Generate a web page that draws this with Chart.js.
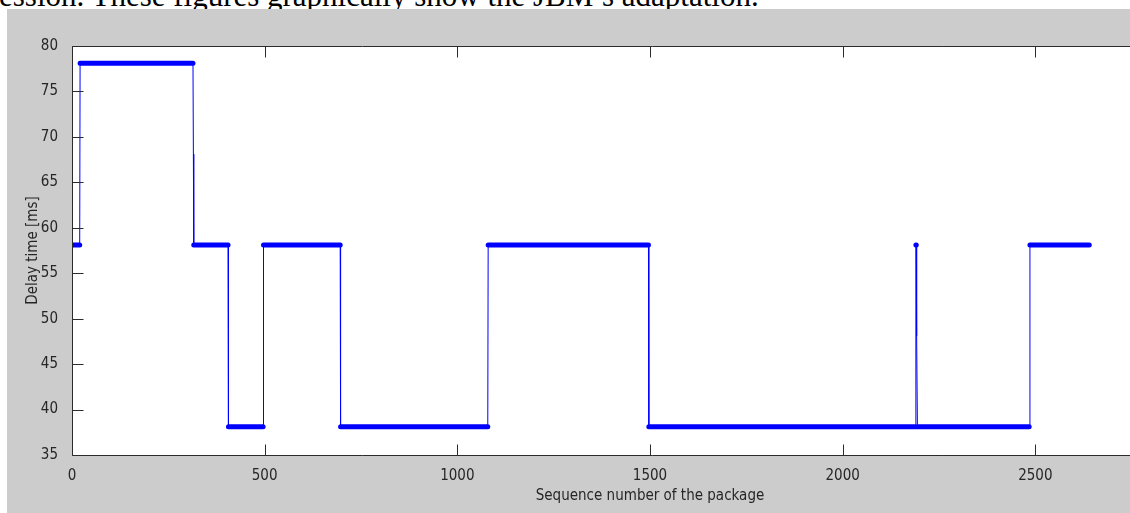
<!DOCTYPE html>
<html>
<head>
<meta charset="utf-8">
<title>Delay time per package</title>
<script src="https://cdn.jsdelivr.net/npm/chart.js@4.4.1/dist/chart.umd.min.js"></script>
<style>
    html, body { margin: 0; padding: 0; background: #ffffff; overflow: hidden; }
    body { width: 1130px; height: 513px; position: relative; }
    .doc-line {
        position: absolute; left: -1px; top: -20px;
        font: 31px/32px "Liberation Serif", "Times New Roman", serif;
        color: #000; white-space: nowrap;
    }
    .figure {
        position: absolute; left: 7px; top: 9px;
        width: 1300px; height: 504px; background: #cccccc;
    }
</style>
</head>
<body>
<div class="doc-line">ession. These figures graphically show the JBM’s adaptation.</div>
<div class="figure"><canvas id="delayChart" width="1300" height="504"></canvas></div>
<script>
// ===== DONNÉES (paliers) =====
const segStart = [1, 21, 316, 406, 497, 697, 1080, 1497, 2190, 2194, 2486];
const segEnd   = [20, 314, 405, 496, 696, 1079, 1496, 2189, 2191, 2484, 2640];
const delayMs  = [58.1, 78.1, 58.1, 38.1, 58.1, 38.1, 58.1, 38.1, 58.1, 38.1, 58.1];
// paquets isolés à une valeur intermédiaire
const midSeq   = [315, 2192];
const midDelay = [68.1, 48.1];
const xTicks = [0, 500, 1000, 1500, 2000, 2500, 3000];
const yTicks = [35, 40, 45, 50, 55, 60, 65, 70, 75, 80];

(function() {
    'use strict';

    const FONT = '"DejaVu Sans Condensed", "Liberation Sans Narrow", sans-serif';
    const BLUE = '#0000ff';

    // ligne fine reliant tous les paquets
    const linePts = [];
    segStart.forEach((s, i) => {
        linePts.push({ x: s, y: delayMs[i] }, { x: segEnd[i], y: delayMs[i] });
    });
    midSeq.forEach((s, i) => linePts.push({ x: s, y: midDelay[i] }));
    linePts.sort((a, b) => a.x - b.x);

    // marqueurs '.' serrés -> trait épais par palier
    const dotPts = [];
    segStart.forEach((s, i) => {
        dotPts.push({ x: s, y: delayMs[i] }, { x: segEnd[i], y: delayMs[i] }, { x: segEnd[i] + 0.5, y: null });
    });

    // cadre façon MATLAB : fond blanc, axes + graduations vers l'intérieur
    const matlabFrame = {
        id: 'matlabFrame',
        beforeDatasetsDraw(chart) {
            const { ctx, chartArea: a } = chart;
            ctx.save();
            ctx.fillStyle = '#ffffff';
            ctx.fillRect(a.left, a.top, a.right - a.left + 20, a.bottom - a.top);
            ctx.restore();
        },
        afterDatasetsDraw(chart) {
            const { ctx, chartArea: a, scales: { x, y } } = chart;
            const tl = 11;
            const L = Math.round(a.left) + 0.5, B = Math.round(a.bottom) + 0.5, T = Math.round(a.top) + 0.5;
            ctx.save();
            ctx.strokeStyle = '#2b2b2b';
            ctx.lineWidth = 1;
            ctx.beginPath();
            ctx.moveTo(a.right + 5, T); ctx.lineTo(L, T);
            ctx.lineTo(L, B); ctx.lineTo(a.right + 5, B);
            xTicks.forEach(v => {
                const px = Math.round(x.getPixelForValue(v)) + 0.5;
                ctx.moveTo(px, B); ctx.lineTo(px, B - tl);
                ctx.moveTo(px, T); ctx.lineTo(px, T + tl);
            });
            yTicks.forEach(v => {
                const py = Math.round(y.getPixelForValue(v)) + 0.5;
                ctx.moveTo(L, py); ctx.lineTo(L + tl, py);
            });
            ctx.stroke();
            ctx.restore();
        }
    };

    const ctx = document.getElementById('delayChart');
    new Chart(ctx, {
        type: 'line',
        data: {
            datasets: [
                {
                    data: linePts,
                    borderColor: BLUE,
                    borderWidth: 1,
                    pointRadius: 0,
                    tension: 0
                },
                {
                    data: dotPts,
                    borderColor: BLUE,
                    borderWidth: 5,
                    borderCapStyle: 'round',
                    pointRadius: 0,
                    spanGaps: false,
                    tension: 0
                }
            ]
        },
        options: {
            responsive: false,
            animation: false,
            devicePixelRatio: 1,
            layout: { padding: { left: 0, top: 37, right: 79, bottom: 0 } },
            plugins: { legend: { display: false }, tooltip: { enabled: false } },
            scales: {
                x: {
                    type: 'linear',
                    min: 0, max: 3000,
                    afterBuildTicks: (s) => { s.ticks = xTicks.map(v => ({ value: v })); },
                    afterFit: (s) => { s.height = 58; },
                    grid: { display: false },
                    border: { display: false },
                    ticks: {
                        color: '#262626', padding: 4, maxRotation: 0,
                        font: { family: FONT, size: 15 },
                        callback: (v) => String(v)
                    },
                    title: {
                        display: true,
                        text: 'Sequence number of the package',
                        color: '#262626',
                        padding: { top: 0, bottom: 8 },
                        font: { family: FONT, size: 15 }
                    }
                },
                y: {
                    min: 35, max: 80,
                    afterBuildTicks: (s) => { s.ticks = yTicks.map(v => ({ value: v })); },
                    afterFit: (s) => { s.width = 65; },
                    grid: { display: false },
                    border: { display: false },
                    ticks: {
                        color: '#262626', padding: 6,
                        font: { family: FONT, size: 15 },
                        callback: (v) => String(v)
                    },
                    title: {
                        display: true,
                        text: 'Delay time [ms]',
                        color: '#262626',
                        padding: { top: 17, bottom: 0 },
                        font: { family: FONT, size: 15 }
                    }
                }
            }
        },
        plugins: [matlabFrame]
    });
})();
</script>
</body>
</html>
